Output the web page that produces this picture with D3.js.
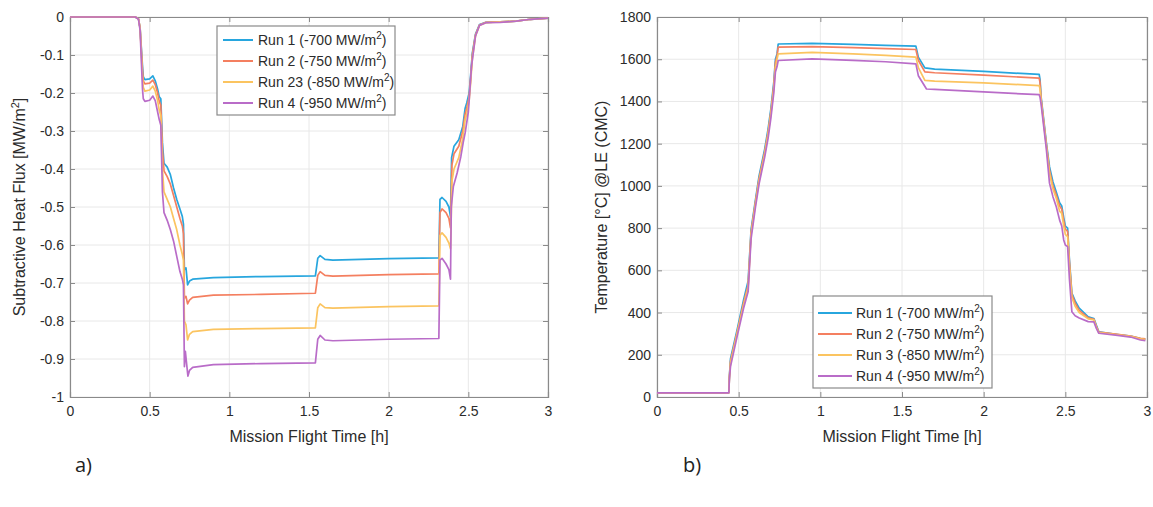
<!DOCTYPE html>
<html>
<head>
<meta charset="utf-8">
<script src="https://cdn.jsdelivr.net/npm/d3@7"></script>
<style>
  html, body { margin: 0; padding: 0; background: #ffffff; }
  svg { display: block; }
</style>
</head>
<body>
<svg id="chart" width="1153" height="507"></svg>
<script>
// ---------- DATA ----------
const seriesNamesA = ["Run 1 (-700 MW/m", "Run 2 (-750 MW/m", "Run 23 (-850 MW/m", "Run 4 (-950 MW/m"];
const seriesNamesB = ["Run 1 (-700 MW/m", "Run 2 (-750 MW/m", "Run 3 (-850 MW/m", "Run 4 (-950 MW/m"];
const seriesColors = ["#27a6de", "#f47f60", "#fbc460", "#b96cc8"];

const xTicks = [0, 0.5, 1, 1.5, 2, 2.5, 3];
const fluxTicks = [0, -0.1, -0.2, -0.3, -0.4, -0.5, -0.6, -0.7, -0.8, -0.9, -1];
const tempTicks = [0, 200, 400, 600, 800, 1000, 1200, 1400, 1600, 1800];

// Subtractive heat flux [MW/m2] vs time [h]
const fluxRun1 = [[0,0],[0.41,0],[0.43,-0.005],[0.44,-0.03],[0.455,-0.13],[0.46,-0.157],[0.47,-0.165],[0.5,-0.163],[0.52,-0.155],[0.535,-0.168],[0.55,-0.19],[0.56,-0.21],[0.57,-0.215],[0.58,-0.33],[0.59,-0.385],[0.61,-0.395],[0.63,-0.415],[0.65,-0.45],[0.67,-0.48],[0.69,-0.505],[0.705,-0.525],[0.712,-0.545],[0.718,-0.665],[0.728,-0.66],[0.738,-0.705],[0.75,-0.695],[0.77,-0.69],[0.9,-0.686],[1.2,-0.683],[1.54,-0.681],[1.555,-0.635],[1.57,-0.628],[1.6,-0.638],[1.65,-0.64],[2.0,-0.636],[2.315,-0.634],[2.322,-0.48],[2.335,-0.475],[2.36,-0.485],[2.378,-0.5],[2.388,-0.525],[2.395,-0.37],[2.41,-0.34],[2.44,-0.323],[2.465,-0.288],[2.48,-0.24],[2.49,-0.226],[2.505,-0.2],[2.515,-0.15],[2.525,-0.095],[2.545,-0.045],[2.57,-0.02],[2.61,-0.014],[2.7,-0.013],[2.8,-0.011],[2.89,-0.006],[3.0,-0.003]];
const fluxRun2 = [[0,0],[0.41,0],[0.43,-0.005],[0.44,-0.03],[0.455,-0.14],[0.46,-0.168],[0.47,-0.176],[0.5,-0.174],[0.52,-0.166],[0.535,-0.178],[0.55,-0.2],[0.56,-0.222],[0.57,-0.232],[0.58,-0.35],[0.59,-0.405],[0.61,-0.42],[0.63,-0.44],[0.65,-0.47],[0.67,-0.5],[0.69,-0.53],[0.705,-0.55],[0.712,-0.57],[0.718,-0.74],[0.728,-0.735],[0.738,-0.755],[0.75,-0.745],[0.77,-0.738],[0.9,-0.732],[1.2,-0.73],[1.54,-0.727],[1.555,-0.68],[1.57,-0.67],[1.6,-0.68],[1.65,-0.682],[2.0,-0.678],[2.315,-0.676],[2.322,-0.515],[2.335,-0.505],[2.36,-0.515],[2.378,-0.53],[2.388,-0.555],[2.397,-0.39],[2.41,-0.36],[2.44,-0.34],[2.465,-0.3],[2.48,-0.255],[2.49,-0.24],[2.505,-0.21],[2.515,-0.16],[2.525,-0.1],[2.545,-0.047],[2.57,-0.021],[2.61,-0.014],[2.7,-0.013],[2.8,-0.011],[2.89,-0.006],[3.0,-0.003]];
const fluxRun3 = [[0,0],[0.41,0],[0.43,-0.005],[0.44,-0.03],[0.455,-0.16],[0.46,-0.185],[0.47,-0.195],[0.5,-0.192],[0.52,-0.182],[0.535,-0.195],[0.55,-0.22],[0.56,-0.245],[0.57,-0.26],[0.58,-0.4],[0.59,-0.46],[0.61,-0.48],[0.63,-0.5],[0.65,-0.53],[0.67,-0.56],[0.69,-0.6],[0.705,-0.625],[0.712,-0.64],[0.718,-0.8],[0.728,-0.81],[0.738,-0.85],[0.75,-0.835],[0.77,-0.828],[0.9,-0.822],[1.2,-0.82],[1.54,-0.818],[1.555,-0.765],[1.57,-0.755],[1.6,-0.765],[1.65,-0.766],[2.0,-0.762],[2.315,-0.76],[2.322,-0.575],[2.335,-0.568],[2.36,-0.58],[2.378,-0.595],[2.388,-0.61],[2.398,-0.43],[2.41,-0.4],[2.44,-0.37],[2.465,-0.32],[2.48,-0.27],[2.49,-0.255],[2.505,-0.22],[2.515,-0.17],[2.525,-0.11],[2.545,-0.05],[2.57,-0.022],[2.61,-0.015],[2.7,-0.013],[2.8,-0.011],[2.89,-0.006],[3.0,-0.003]];
const fluxRun4 = [[0,0],[0.41,0],[0.43,-0.006],[0.44,-0.035],[0.455,-0.19],[0.46,-0.215],[0.47,-0.222],[0.5,-0.219],[0.52,-0.208],[0.535,-0.22],[0.55,-0.25],[0.56,-0.27],[0.57,-0.285],[0.58,-0.46],[0.59,-0.515],[0.61,-0.535],[0.63,-0.56],[0.65,-0.59],[0.67,-0.63],[0.69,-0.67],[0.705,-0.69],[0.712,-0.705],[0.718,-0.92],[0.724,-0.88],[0.73,-0.905],[0.74,-0.945],[0.75,-0.93],[0.77,-0.922],[0.9,-0.915],[1.2,-0.912],[1.54,-0.91],[1.555,-0.848],[1.57,-0.838],[1.6,-0.85],[1.65,-0.852],[2.0,-0.848],[2.315,-0.846],[2.322,-0.64],[2.335,-0.635],[2.36,-0.65],[2.378,-0.665],[2.388,-0.69],[2.393,-0.5],[2.406,-0.446],[2.43,-0.41],[2.453,-0.367],[2.468,-0.33],[2.48,-0.305],[2.5,-0.25],[2.52,-0.13],[2.545,-0.05],[2.57,-0.022],[2.61,-0.015],[2.7,-0.014],[2.8,-0.011],[2.89,-0.006],[3.0,-0.003]];

// Temperature [°C] @LE (CMC) vs time [h]
const tempRun1 = [[0,20],[0.44,20],[0.443,95],[0.45,182],[0.49,317],[0.53,460],[0.558,550],[0.576,793],[0.603,935],[0.625,1047],[0.659,1173],[0.68,1269],[0.697,1364],[0.715,1491],[0.725,1600],[0.735,1625],[0.742,1672],[0.95,1675],[1.2,1670],[1.4,1666],[1.585,1662],[1.6,1610],[1.64,1559],[1.7,1553],[2.0,1542],[2.34,1528],[2.345,1505],[2.352,1420],[2.383,1210],[2.403,1091],[2.424,1020],[2.445,970],[2.465,920],[2.478,905],[2.49,850],[2.5,810],[2.514,800],[2.525,650],[2.54,492],[2.56,455],[2.585,421],[2.64,380],[2.675,372],[2.69,340],[2.705,309],[2.82,296],[2.9,288],[2.96,277],[2.99,273]];
const tempRun2 = [[0,20],[0.44,20],[0.443,92],[0.45,170],[0.49,305],[0.53,445],[0.558,530],[0.576,780],[0.603,925],[0.625,1035],[0.659,1160],[0.68,1255],[0.697,1350],[0.715,1475],[0.725,1585],[0.735,1615],[0.742,1657],[0.95,1660],[1.2,1655],[1.4,1650],[1.585,1646],[1.6,1595],[1.64,1540],[1.7,1536],[2.0,1525],[2.34,1510],[2.345,1490],[2.352,1410],[2.383,1200],[2.403,1075],[2.424,1000],[2.445,955],[2.465,905],[2.478,890],[2.49,835],[2.5,795],[2.514,785],[2.525,640],[2.54,485],[2.56,445],[2.585,410],[2.64,375],[2.675,368],[2.69,335],[2.705,307],[2.82,297],[2.9,289],[2.96,278],[2.99,275]];
const tempRun3 = [[0,20],[0.44,20],[0.443,90],[0.45,160],[0.49,300],[0.53,435],[0.558,520],[0.576,770],[0.603,915],[0.625,1025],[0.659,1150],[0.68,1245],[0.697,1340],[0.715,1460],[0.725,1560],[0.735,1600],[0.742,1625],[0.95,1632],[1.2,1625],[1.4,1618],[1.585,1610],[1.6,1560],[1.64,1500],[1.7,1496],[2.0,1488],[2.34,1475],[2.345,1460],[2.352,1400],[2.383,1195],[2.403,1060],[2.424,985],[2.445,940],[2.465,880],[2.478,870],[2.49,810],[2.5,770],[2.514,760],[2.525,620],[2.54,470],[2.56,430],[2.585,400],[2.64,370],[2.675,365],[2.69,330],[2.705,305],[2.82,295],[2.9,287],[2.96,276],[2.99,272]];
const tempRun4 = [[0,20],[0.44,20],[0.443,85],[0.45,145],[0.49,285],[0.53,420],[0.558,500],[0.576,750],[0.603,900],[0.625,1010],[0.659,1135],[0.68,1225],[0.697,1320],[0.715,1440],[0.725,1540],[0.735,1565],[0.742,1594],[0.95,1602],[1.2,1595],[1.4,1588],[1.585,1578],[1.6,1522],[1.65,1459],[1.7,1457],[2.0,1445],[2.34,1432],[2.345,1420],[2.352,1385],[2.383,1180],[2.403,1013],[2.424,949],[2.445,900],[2.465,838],[2.478,810],[2.49,744],[2.5,720],[2.514,712],[2.525,560],[2.54,404],[2.56,385],[2.585,374],[2.64,357],[2.675,356],[2.69,325],[2.705,302],[2.82,292],[2.9,284],[2.96,270],[2.99,267]];

// ---------- DRAWING ----------
const svg = d3.select("#chart");
const FONT = "'Liberation Sans', Arial, Helvetica, sans-serif";
const TXT = "#2b2b2b";
const fmt = d => d3.format("~g")(d).replace("\u2212", "-");

function panel(cfg) {
  const x = d3.scaleLinear().domain([0, 3]).range([cfg.left, cfg.right]);
  const y = d3.scaleLinear().domain(cfg.yDomain).range([cfg.bottom, cfg.top]);
  const g = svg.append("g");

  // grid
  g.append("g").selectAll("line").data(xTicks).join("line")
    .attr("x1", d => x(d)).attr("x2", d => x(d))
    .attr("y1", cfg.top).attr("y2", cfg.bottom)
    .attr("stroke", "#e8e8e8").attr("stroke-width", 1);
  g.append("g").selectAll("line").data(cfg.yTicks).join("line")
    .attr("y1", d => y(d)).attr("y2", d => y(d))
    .attr("x1", cfg.left).attr("x2", cfg.right)
    .attr("stroke", "#e8e8e8").attr("stroke-width", 1);

  // axes (inward ticks, box)
  const axB = d3.axisBottom(x).tickValues(xTicks).tickSize(-5).tickFormat(fmt);
  const axT = d3.axisTop(x).tickValues(xTicks).tickSize(-5).tickFormat("");
  const axL = d3.axisLeft(y).tickValues(cfg.yTicks).tickSize(-5).tickFormat(fmt);
  const axR = d3.axisRight(y).tickValues(cfg.yTicks).tickSize(-5).tickFormat("");
  const styleAxis = (sel) => {
    sel.selectAll("path").attr("stroke", "#8a8a8a").attr("stroke-width", 1.2);
    sel.selectAll("line").attr("stroke", "#8a8a8a");
    sel.selectAll("text").attr("fill", TXT).style("font-family", FONT).style("font-size", "14px");
  };
  g.append("g").attr("transform", `translate(0,${cfg.bottom})`).call(axB).call(styleAxis)
    .selectAll("text").attr("dy", "0").attr("y", 19);
  g.append("g").attr("transform", `translate(0,${cfg.top})`).call(axT).call(styleAxis);
  g.append("g").attr("transform", `translate(${cfg.left},0)`).call(axL).call(styleAxis)
    .selectAll("text").attr("x", -6);
  g.append("g").attr("transform", `translate(${cfg.right},0)`).call(axR).call(styleAxis);

  // lines
  const line = d3.line().x(d => x(d[0])).y(d => y(d[1]));
  cfg.series.forEach((s, i) => {
    g.append("path").datum(s).attr("d", line)
      .attr("fill", "none").attr("stroke", seriesColors[i])
      .attr("stroke-width", 1.7).attr("stroke-linejoin", "round");
  });

  // axis titles
  g.append("text").attr("x", (cfg.left + cfg.right) / 2).attr("y", cfg.bottom + 45)
    .attr("text-anchor", "middle").attr("fill", TXT)
    .style("font-family", FONT).style("font-size", "16px")
    .text("Mission Flight Time [h]");
  const yt = g.append("text")
    .attr("transform", `translate(${cfg.yTitleX},${(cfg.top + cfg.bottom) / 2}) rotate(-90)`)
    .attr("text-anchor", "middle").attr("fill", TXT)
    .style("font-family", FONT).style("font-size", "16px");
  cfg.yTitle(yt);

  // legend
  const L = cfg.legend;
  const lg = g.append("g");
  lg.append("rect").attr("x", L.x).attr("y", L.y).attr("width", L.w).attr("height", L.h)
    .attr("fill", "#ffffff").attr("stroke", "#8a8a8a").attr("stroke-width", 1.2);
  cfg.names.forEach((name, i) => {
    const cy = L.y + L.first + i * L.step;
    lg.append("line").attr("x1", L.x + L.lx0).attr("x2", L.x + L.lx1)
      .attr("y1", cy).attr("y2", cy)
      .attr("stroke", seriesColors[i]).attr("stroke-width", 2);
    const t = lg.append("text").attr("x", L.x + L.tx).attr("y", cy + 5)
      .attr("fill", TXT).style("font-family", FONT).style("font-size", "14px");
    t.append("tspan").text(name);
    t.append("tspan").attr("dy", -6).style("font-size", "10px").text("2");
    t.append("tspan").attr("dy", 6).text(")");
  });
}

panel({
  left: 70, right: 548, top: 17, bottom: 397,
  yDomain: [-1, 0], yTicks: fluxTicks,
  series: [fluxRun1, fluxRun2, fluxRun3, fluxRun4],
  names: seriesNamesA,
  yTitleX: 25,
  yTitle: t => {
    t.append("tspan").text("Subtractive Heat Flux [MW/m");
    t.append("tspan").attr("dy", -6).style("font-size", "11px").text("2");
    t.append("tspan").attr("dy", 6).text("]");
  },
  legend: { x: 217, y: 26, w: 178, h: 89, first: 14, step: 21, lx0: 6, lx1: 36, tx: 41 }
});

panel({
  left: 657, right: 1147, top: 17, bottom: 397,
  yDomain: [0, 1800], yTicks: tempTicks,
  series: [tempRun1, tempRun2, tempRun3, tempRun4],
  names: seriesNamesB,
  yTitleX: 607,
  yTitle: t => { t.text("Temperature [°C] @LE (CMC)"); },
  legend: { x: 813, y: 296, w: 179, h: 92, first: 17, step: 21, lx0: 5, lx1: 39, tx: 43 }
});

// panel labels
svg.append("text").attr("x", 75).attr("y", 472).attr("fill", "#222")
  .style("font-family", "'Open Sans', sans-serif").style("font-size", "20px").text("a)");
svg.append("text").attr("x", 683).attr("y", 472).attr("fill", "#222")
  .style("font-family", "'Open Sans', sans-serif").style("font-size", "20px").text("b)");
</script>
</body>
</html>
